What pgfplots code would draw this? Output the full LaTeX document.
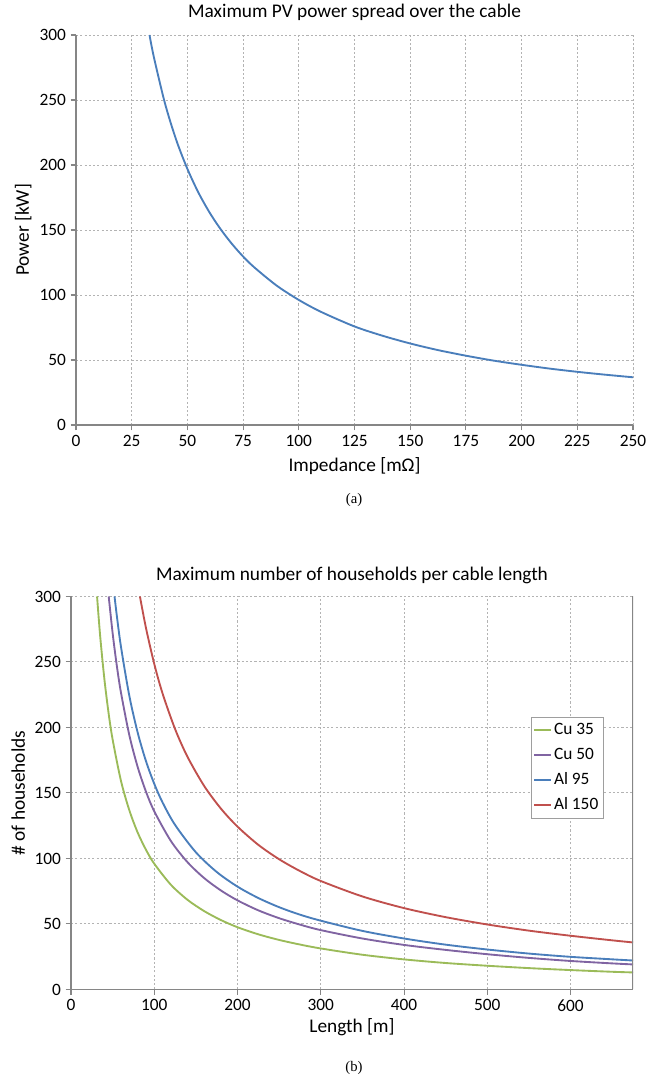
\documentclass[border=0pt]{standalone}
\usepackage{fontspec}
\setmainfont{Carlito}
\newfontfamily\capfont{Liberation Serif}
\usepackage{pgfplots}
\pgfplotsset{compat=1.18}
\definecolor{xlBlue}{HTML}{4A7EBB}
\definecolor{xlRed}{HTML}{C0504D}
\definecolor{xlGreen}{HTML}{9BBB59}
\definecolor{xlPurple}{HTML}{8064A2}
\definecolor{xlAxis}{HTML}{868686}
\definecolor{xlGrid}{HTML}{B3B3B3}
\pgfplotsset{
  xlchart/.style={
    scale only axis,
    axis lines*=left,
    axis line style={-, xlAxis, line width=1pt},
    tick align=outside,
    major tick length=4pt,
    every tick/.style={xlAxis, line width=0.8pt},
    grid=major,
    major grid style={xlGrid, line width=0.7pt, dash pattern=on 1.6pt off 1.6pt},
    ymin=0, ymax=300, ytick={0,50,...,300},
    tick label style={font=\fontsize{13}{15}\selectfont, /pgf/number format/assume math mode=true},
    label style={font=\fontsize{14.5}{17}\selectfont},
    every axis plot/.append style={line width=1.4pt},
  },
}
\begin{document}
\begin{tikzpicture}
\useasboundingbox (0,0) rectangle (503.25pt,816pt);

% (a) power versus impedance
\begin{axis}[xlchart,
  at={(57pt,497.25pt)}, anchor=south west,
  width=417.75pt, height=292.5pt,
  xmin=0, xmax=250, xtick={0,25,...,250},
  xlabel={Impedance [mΩ]},
  xlabel style={at={(axis description cs:0.5,-0.105)}, anchor=center},
  ylabel={Power [kW]},
  ylabel style={at={(axis description cs:-0.095,0.5)}, anchor=center},
]
\addplot[xlBlue, smooth] coordinates {
  (33,300) (35,282.6) (40,247) (45,219.2) (50,197) (55,178.6) (60,163.3)
  (65,150.4) (70,139.3) (75,129.6) (80,121.3) (90,107.3) (100,96.2)
  (110,87) (125,75.8) (137.5,68.7) (150,62.7) (162.5,57.6) (175,53.3)
  (187.5,49.5) (200,46.3) (212.5,43.4) (225,40.9) (237.5,38.7) (250,36.7)
};
\end{axis}
\node[font=\fontsize{14.5}{17}\selectfont] at (265.9pt,806.5pt)
  {Maximum PV power spread over the cable};
\node[font=\capfont\fontsize{11}{13}\selectfont] at (265.5pt,441pt) {(a)};

% (b) households versus cable length
\begin{axis}[xlchart,
  at={(53.25pt,73.9pt)}, anchor=south west,
  width=421.5pt, height=294.75pt,
  xmin=0, xmax=675, xtick={0,100,...,600},
  xlabel={Length [m]},
  xlabel style={at={(axis description cs:0.5,-0.095)}, anchor=center},
  ylabel={\# of households},
  ylabel style={at={(axis description cs:-0.094,0.5)}, anchor=center},
  legend cell align=left,
  legend style={at={(0.947,0.693)}, anchor=north east, draw=xlAxis!80,
    font=\fontsize{13}{15}\selectfont, row sep=4.5pt, inner xsep=1.5pt, inner ysep=2.5pt},
  legend image code/.code={\draw[#1] plot coordinates {(0pt,0pt) (12pt,0pt)};},
  legend image post style={line width=1.5pt},
]
\addplot[xlGreen, smooth] coordinates {
  (31.3,300) (35,270) (40,237.5) (45,211.6) (50,190.8) (60,159.3) (70,136.9)
  (80,119.9) (90,106.7) (100,96) (120,79.9) (140,68.4) (160,59.8) (180,53)
  (200,47.5) (225,42.1) (250,37.8) (275,34.3) (300,31.3) (350,26.5)
  (400,22.95) (450,20.2) (500,18.1) (550,16.3) (600,14.8) (650,13.5) (675,13.0)
};
\addlegendentry{Cu 35}
\addplot[xlPurple, smooth] coordinates {
  (45.3,300) (50,272) (55,247.3) (60,226.7) (70,194.3) (80,170) (90,151.1)
  (100,136) (120,113.3) (140,97.1) (160,85) (180,75.6) (200,68) (225,60.4)
  (250,54.4) (275,49.5) (300,45.3) (350,38.9) (400,34) (450,30.2)
  (500,26.9) (550,24.1) (600,21.75) (650,19.9) (675,19.1)
};
\addlegendentry{Cu 50}
\addplot[xlBlue, smooth] coordinates {
  (52.3,300) (55,285.5) (60,261.7) (70,224.3) (80,196.3) (90,174.4) (100,157)
  (110,142.7) (125,125.6) (150,104.7) (175,89.7) (200,78.5) (225,69.8)
  (250,62.8) (275,57.1) (300,52.5) (350,44.7) (400,38.9) (450,34.2)
  (500,30.5) (550,27.4) (600,24.9) (650,23.0) (675,22.1)
};
\addlegendentry{Al 95}
\addplot[xlRed, smooth] coordinates {
  (82.8,300) (90,276.1) (100,248.5) (110,225.9) (125,198.8) (140,177.5)
  (160,155.3) (180,138.1) (200,124.3) (225,110.4) (250,99.4) (275,90.4)
  (300,82.8) (350,71.0) (400,62.1) (450,55.2) (500,49.6) (550,44.9)
  (600,41.0) (650,37.5) (675,35.9)
};
\addlegendentry{Al 150}
\draw[xlAxis, line width=1pt] (rel axis cs:1,0) -- (rel axis cs:1,1);
\end{axis}
\node[font=\fontsize{14.5}{17}\selectfont] at (264pt,384.75pt)
  {Maximum number of households per cable length};
\node[font=\capfont\fontsize{11}{13}\selectfont] at (265.5pt,15pt) {(b)};
\end{tikzpicture}
\end{document}
